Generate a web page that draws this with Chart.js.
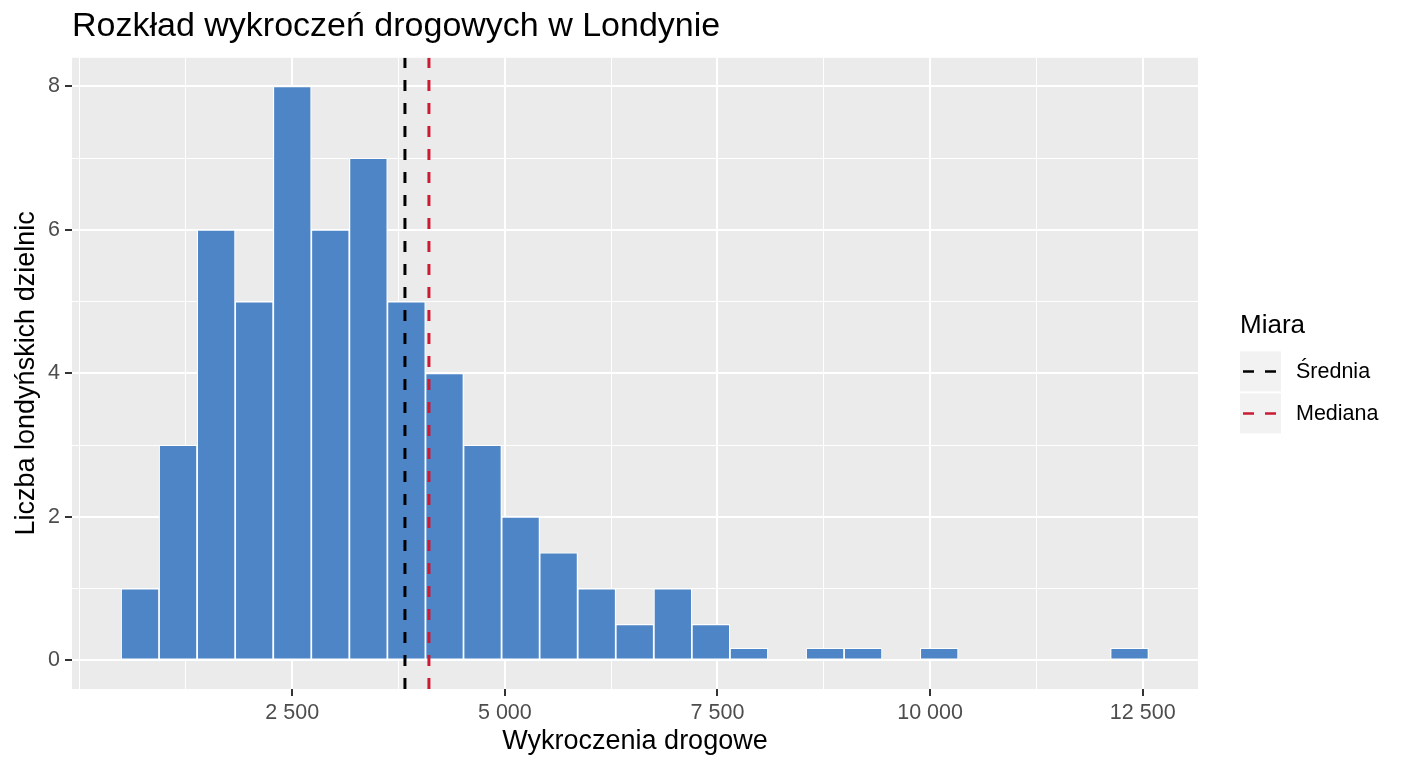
<!DOCTYPE html>
<html lang="pl">
<head>
<meta charset="utf-8">
<title>Rozkład wykroczeń drogowych w Londynie</title>
<script src="https://cdn.jsdelivr.net/npm/chart.js@4.4.1/dist/chart.umd.min.js"></script>
<style>
  html, body { margin: 0; padding: 0; background: #ffffff; }
  #wrap { width: 1408px; height: 768px; }
</style>
</head>
<body>
<div id="wrap"><canvas id="hist"></canvas></div>
<script>
// środki przedziałów histogramu (liczba wykroczeń)
const binCenters = [710, 1157, 1605, 2052, 2500, 2947, 3395, 3842, 4290, 4737, 5185, 5632, 6080, 6527,
  6975, 7422, 7870, 8317, 8765, 9212, 9660, 10107, 10555, 11002, 11450, 11897, 12345];
// liczba dzielnic w każdym przedziale
const districtCounts = [1, 3, 6, 5, 8, 6, 7, 5, 4, 3, 2, 1.5, 1, 0.5, 1, 0.5, 0.17, 0, 0.17, 0.17,
  0, 0.17, 0, 0, 0, 0, 0.17];

const measureNames = ['Średnia', 'Mediana'];
const measureValues = [3825, 4107];
const measureColors = ['#000000', '#CC1A33'];

const xTicks = [2500, 5000, 7500, 10000, 12500];
const xTickLabels = ['2 500', '5 000', '7 500', '10 000', '12 500'];
const yTicks = [0, 2, 4, 6, 8];
const yTickLabels = ['0', '2', '4', '6', '8'];

const xRange = [-90, 13150];
const yRange = [-0.4, 8.4];

const FONT = "'Liberation Sans', Arial, Helvetica, sans-serif";
const PANEL = '#EBEBEB';
const TICK_TEXT = '#4D4D4D';

// linie siatki co pół kroku głównego (jak w ggplot)
const gridValues = (major, range) => {
  const half = (major[1] - major[0]) / 2;
  const out = [];
  for (let v = Math.ceil(range[0] / half) * half; v <= range[1]; v += half) out.push(v);
  return out;
};
const xGrid = gridValues(xTicks, xRange);
const yGrid = gridValues(yTicks, yRange);

const panelBackground = {
  id: 'panelBackground',
  beforeDraw(chart) {
    const { ctx, chartArea: a } = chart;
    ctx.save();
    ctx.fillStyle = '#ffffff';
    ctx.fillRect(0, 0, chart.width, chart.height);
    ctx.fillStyle = PANEL;
    ctx.fillRect(a.left, a.top, a.right - a.left, a.bottom - a.top);
    ctx.restore();
  },
};

// legenda w stylu ggplot: tytuł + szare pola z przerywaną linią
const measureLegend = {
  id: 'measureLegend',
  afterDraw(chart) {
    const { ctx, chartArea: a } = chart;
    const x0 = a.right + 42;
    const mid = (a.top + a.bottom) / 2;
    const keyW = 41, keyH = 40;
    let y = mid - 22;

    ctx.save();
    ctx.fillStyle = '#000000';
    ctx.font = `26px ${FONT}`;
    ctx.textBaseline = 'alphabetic';
    ctx.fillText('Miara', x0, mid - 40);

    const lines = chart.data.datasets.filter((d) => d.type === 'line');
    lines.forEach((ds) => {
      ctx.fillStyle = '#F2F2F2';
      ctx.fillRect(x0, y, keyW, keyH);
      ctx.strokeStyle = ds.borderColor;
      ctx.lineWidth = 2.5;
      ctx.setLineDash([11, 11]);
      ctx.beginPath();
      ctx.moveTo(x0 + 3, y + keyH / 2);
      ctx.lineTo(x0 + keyW - 2, y + keyH / 2);
      ctx.stroke();
      ctx.setLineDash([]);
      ctx.fillStyle = '#000000';
      ctx.font = `21.5px ${FONT}`;
      ctx.textBaseline = 'middle';
      ctx.fillText(ds.label, x0 + 56, y + keyH / 2 + 1);
      y += keyH + 2;
    });
    ctx.restore();
  },
};

const datasets = [
  {
    type: 'bar',
    label: 'Liczba dzielnic',
    data: binCenters.map((x, i) => ({ x: x, y: districtCounts[i] })),
    backgroundColor: '#4D85C7',
    borderColor: '#ffffff',
    borderWidth: 1.2,
    borderSkipped: false,
    barPercentage: 1,
    categoryPercentage: 1,
    order: 3,
  },
];

measureNames.forEach((name, i) => {
  datasets.push({
    type: 'line',
    label: name,
    data: [
      { x: measureValues[i], y: yRange[0] },
      { x: measureValues[i], y: yRange[1] },
    ],
    borderColor: measureColors[i],
    borderWidth: 3,
    borderDash: [11, 12],
    pointRadius: 0,
    fill: false,
    order: i + 1,
  });
});

new Chart(document.getElementById('hist'), {
  type: 'bar',
  data: { datasets: datasets },
  plugins: [panelBackground, measureLegend],
  options: {
    responsive: true,
    maintainAspectRatio: false,
    animation: false,
    layout: { padding: { top: 0, right: 210, bottom: 0, left: 0 } },
    scales: {
      x: {
        type: 'linear',
        min: xRange[0],
        max: xRange[1],
        offset: false,
        afterBuildTicks: (scale) => {
          scale.ticks = xGrid.map((v) => ({ value: v }));
        },
        afterFit: (scale) => {
          scale.height = 79;
        },
        grid: {
          offset: false,
          color: '#ffffff',
          lineWidth: (ctx) => (xTicks.includes(ctx.tick && ctx.tick.value) ? 2 : 1),
          drawTicks: true,
          tickLength: 7,
          tickWidth: 2,
          tickColor: (ctx) => (xTicks.includes(ctx.tick && ctx.tick.value) ? '#333333' : 'rgba(0,0,0,0)'),
        },
        border: { display: false },
        ticks: {
          autoSkip: false,
          maxRotation: 0,
          padding: 4,
          color: TICK_TEXT,
          font: { family: FONT, size: 21.5 },
          callback: (value) => {
            const k = xTicks.indexOf(value);
            return k >= 0 ? xTickLabels[k] : '';
          },
        },
        title: {
          display: true,
          text: 'Wykroczenia drogowe',
          color: '#000000',
          font: { family: FONT, size: 27 },
          padding: { top: 0, bottom: 10 },
        },
      },
      y: {
        min: yRange[0],
        max: yRange[1],
        afterBuildTicks: (scale) => {
          scale.ticks = yGrid.map((v) => ({ value: v }));
        },
        afterFit: (scale) => {
          scale.width = 72;
        },
        grid: {
          color: '#ffffff',
          lineWidth: (ctx) => (yTicks.includes(ctx.tick && ctx.tick.value) ? 2 : 1),
          drawTicks: true,
          tickLength: 7,
          tickWidth: 2,
          tickColor: (ctx) => (yTicks.includes(ctx.tick && ctx.tick.value) ? '#333333' : 'rgba(0,0,0,0)'),
        },
        border: { display: false },
        ticks: {
          autoSkip: false,
          padding: 5,
          color: TICK_TEXT,
          font: { family: FONT, size: 21.5 },
          callback: (value) => {
            const k = yTicks.indexOf(value);
            return k >= 0 ? yTickLabels[k] : '';
          },
        },
        title: {
          display: true,
          text: 'Liczba londyńskich dzielnic',
          color: '#000000',
          font: { family: FONT, size: 27 },
          padding: { top: 10, bottom: 0 },
        },
      },
    },
    plugins: {
      legend: { display: false },
      tooltip: { enabled: false },
      title: {
        display: true,
        text: 'Rozkład wykroczeń drogowych w Londynie',
        align: 'start',
        fullSize: false,
        color: '#000000',
        font: { family: FONT, size: 34, weight: 'normal' },
        padding: { top: 6, bottom: 11 },
      },
    },
  },
});
</script>
</body>
</html>
